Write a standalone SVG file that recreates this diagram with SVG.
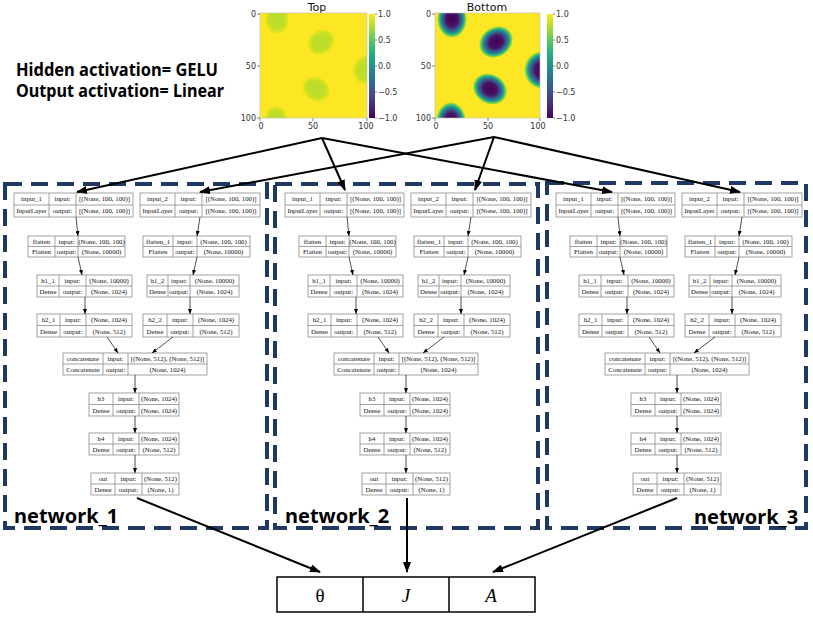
<svg xmlns="http://www.w3.org/2000/svg" width="813" height="617" viewBox="0 0 813 617">
<style>
.nb{fill:#fff;stroke:#8c8c8c;stroke-width:0.8}
.nl{fill:none;stroke:#8c8c8c;stroke-width:0.8}
.nt{font-family:"Liberation Serif",serif;font-size:6.8px;fill:#111;text-anchor:middle}
.dash{fill:none;stroke:#1f3864;stroke-width:4;stroke-dasharray:17 9}
.ar{fill:none;stroke:#000;stroke-width:2;marker-end:url(#ah)}
.sa{fill:none;stroke:#222;stroke-width:0.8;marker-end:url(#sh)}
.tk{font-family:"DejaVu Sans",sans-serif;font-size:8px;fill:#333}
.tt{font-family:"DejaVu Sans",sans-serif;font-size:11px;fill:#111;text-anchor:middle}
.tm{stroke:#333;stroke-width:0.6}
.fr{fill:none;stroke:#bbb;stroke-width:0.6}
.nw{font-family:"Noto Sans",sans-serif;font-weight:bold;font-size:20px;fill:#000}
.hd{font-family:"Noto Sans",sans-serif;font-weight:bold;font-size:17px;fill:#000}
.mt{font-family:"Liberation Serif",serif;font-size:19px;fill:#000;text-anchor:middle}
</style>
<defs>
<marker id="ah" markerUnits="userSpaceOnUse" markerWidth="11" markerHeight="8" refX="10" refY="4" orient="auto"><path d="M0,0 L11,4 L0,8 z" fill="#000"/></marker>
<marker id="sh" markerUnits="userSpaceOnUse" markerWidth="5" markerHeight="4" refX="5" refY="2" orient="auto"><path d="M0,0 L5,2 L0,4 z" fill="#000"/></marker>
<linearGradient id="vir" x1="0" y1="0" x2="0" y2="1">
<stop offset="0" stop-color="#fde725"/><stop offset="0.1" stop-color="#bddf26"/><stop offset="0.2" stop-color="#7ad151"/><stop offset="0.3" stop-color="#44bf70"/><stop offset="0.4" stop-color="#22a884"/><stop offset="0.5" stop-color="#21918c"/><stop offset="0.6" stop-color="#2a788e"/><stop offset="0.7" stop-color="#355f8d"/><stop offset="0.8" stop-color="#414487"/><stop offset="0.9" stop-color="#482475"/><stop offset="1" stop-color="#440154"/>
</linearGradient>
<radialGradient id="gBot">
<stop offset="0" stop-color="#440154"/><stop offset="0.4" stop-color="#471365"/><stop offset="0.55" stop-color="#3e4989"/><stop offset="0.64" stop-color="#31688e"/><stop offset="0.71" stop-color="#26828e"/><stop offset="0.77" stop-color="#1f9e89"/><stop offset="0.83" stop-color="#35b779"/><stop offset="0.89" stop-color="#6ece58"/><stop offset="0.95" stop-color="#b5de2b"/><stop offset="1" stop-color="#fde725"/>
</radialGradient>
<radialGradient id="gTop">
<stop offset="0" stop-color="#b9dd2c"/><stop offset="0.5" stop-color="#bfde28"/><stop offset="0.7" stop-color="#dde31b"/><stop offset="0.82" stop-color="#fde725"/><stop offset="1" stop-color="#fde725"/>
</radialGradient>
<clipPath id="cTop"><rect x="260" y="13" width="107" height="105"/></clipPath>
<clipPath id="cBot"><rect x="435" y="13" width="105" height="105"/></clipPath>
</defs>
<rect width="813" height="617" fill="#fff"/>

<!-- activation text -->
<text class="hd" x="16" y="76" textLength="202" lengthAdjust="spacingAndGlyphs">Hidden activation= GELU</text>
<text class="hd" x="16" y="97" textLength="208" lengthAdjust="spacingAndGlyphs">Output activation= Linear</text>

<!-- Top heatmap -->
<g id="heatmap_top">
<text class="tt" x="317" y="11">Top</text>
<g clip-path="url(#cTop)">
<rect x="260" y="13" width="107" height="105" fill="#fde725"/>
<ellipse cx="277" cy="19" rx="15" ry="19" fill="url(#gTop)"/>
<ellipse cx="321" cy="42" rx="18" ry="15" transform="rotate(-35 321 42)" fill="url(#gTop)"/>
<ellipse cx="367" cy="70" rx="18" ry="19" fill="url(#gTop)"/>
<ellipse cx="316" cy="89" rx="18" ry="15" transform="rotate(30 316 89)" fill="url(#gTop)"/>
<ellipse cx="276" cy="121" rx="15" ry="19" fill="url(#gTop)"/>
</g>
<rect class="fr" x="260" y="13" width="107" height="105"/>
<path class="tm" d="M260 14h-3M260 66h-3M260 118h-3M260 118v3M313 118v3M367 118v3"/>
<text class="tk" x="256" y="17" text-anchor="end">0</text>
<text class="tk" x="256" y="69" text-anchor="end">50</text>
<text class="tk" x="256" y="121" text-anchor="end">100</text>
<text class="tk" x="261" y="129" text-anchor="middle">0</text>
<text class="tk" x="313" y="129" text-anchor="middle">50</text>
<text class="tk" x="366" y="129" text-anchor="middle">100</text>
<rect x="369" y="14" width="6" height="104" fill="url(#vir)"/>
<path class="tm" d="M375 14h2M375 40h2M375 66h2M375 92h2M375 118h2"/>
<text class="tk" x="378" y="17">1.0</text>
<text class="tk" x="378" y="43">0.5</text>
<text class="tk" x="378" y="69">0.0</text>
<text class="tk" x="378" y="95">−0.5</text>
<text class="tk" x="378" y="121">−1.0</text>
</g>

<!-- Bottom heatmap -->
<g id="heatmap_bottom">
<text class="tt" x="487" y="11">Bottom</text>
<g clip-path="url(#cBot)">
<rect x="435" y="13" width="105" height="105" fill="#fde725"/>
<ellipse cx="452" cy="19" rx="15" ry="19" fill="url(#gBot)"/>
<ellipse cx="496" cy="42" rx="18" ry="15" transform="rotate(-35 496 42)" fill="url(#gBot)"/>
<ellipse cx="542" cy="70" rx="18" ry="19" fill="url(#gBot)"/>
<ellipse cx="490" cy="89" rx="18" ry="15" transform="rotate(30 490 89)" fill="url(#gBot)"/>
<ellipse cx="451" cy="121" rx="15" ry="19" fill="url(#gBot)"/>
</g>
<rect class="fr" x="435" y="13" width="105" height="105"/>
<path class="tm" d="M435 14h-3M435 66h-3M435 118h-3M435 118v3M488 118v3M540 118v3"/>
<text class="tk" x="431" y="17" text-anchor="end">0</text>
<text class="tk" x="431" y="69" text-anchor="end">50</text>
<text class="tk" x="431" y="121" text-anchor="end">100</text>
<text class="tk" x="436" y="129" text-anchor="middle">0</text>
<text class="tk" x="488" y="129" text-anchor="middle">50</text>
<text class="tk" x="538" y="129" text-anchor="middle">100</text>
<rect x="547" y="14" width="6" height="104" fill="url(#vir)"/>
<path class="tm" d="M553 14h2M553 40h2M553 66h2M553 92h2M553 118h2"/>
<text class="tk" x="556" y="17">1.0</text>
<text class="tk" x="556" y="43">0.5</text>
<text class="tk" x="556" y="69">0.0</text>
<text class="tk" x="556" y="95">−0.5</text>
<text class="tk" x="556" y="121">−1.0</text>
</g>

<!-- dashed network boxes -->
<rect id="box_1" class="dash" x="5" y="184" width="262" height="344"/>
<rect id="box_2" class="dash" x="275" y="184" width="263" height="344"/>
<rect id="box_3" class="dash" x="547" y="183" width="259" height="345"/>

<!-- network 1 -->
<g id="network_1">
<g id="n1_input_1"><rect class="nb" x="14" y="193" width="119" height="24"/><path class="nl" d="M14 205H133M49 193V217M76 193V217"/><text class="nt" x="31.5" y="201.3">input_1</text><text class="nt" x="62.5" y="201.3">input:</text><text class="nt" x="104.5" y="201.3">[(None, 100, 100)]</text><text class="nt" x="31.5" y="213.3">InputLayer</text><text class="nt" x="62.5" y="213.3">output:</text><text class="nt" x="104.5" y="213.3">[(None, 100, 100)]</text></g>
<g id="n1_input_2"><rect class="nb" x="140" y="193" width="120" height="24"/><path class="nl" d="M140 205H260M175 193V217M202 193V217"/><text class="nt" x="157.5" y="201.3">input_2</text><text class="nt" x="188.5" y="201.3">input:</text><text class="nt" x="231" y="201.3">[(None, 100, 100)]</text><text class="nt" x="157.5" y="213.3">InputLayer</text><text class="nt" x="188.5" y="213.3">output:</text><text class="nt" x="231" y="213.3">[(None, 100, 100)]</text></g>
<g id="n1_flatten"><rect class="nb" x="28" y="236" width="97" height="21"/><path class="nl" d="M28 246.5H125M55 236V257M78 236V257"/><text class="nt" x="41.5" y="243.8">flatten</text><text class="nt" x="66.5" y="243.8">input:</text><text class="nt" x="101.5" y="243.8">(None, 100, 100)</text><text class="nt" x="41.5" y="254.3">Flatten</text><text class="nt" x="66.5" y="254.3">output:</text><text class="nt" x="101.5" y="254.3">(None, 10000)</text></g>
<g id="n1_flatten_1"><rect class="nb" x="143" y="236" width="107" height="21"/><path class="nl" d="M143 246.5H250M173 236V257M197 236V257"/><text class="nt" x="158" y="243.8">flatten_1</text><text class="nt" x="185" y="243.8">input:</text><text class="nt" x="223.5" y="243.8">(None, 100, 100)</text><text class="nt" x="158" y="254.3">Flatten</text><text class="nt" x="185" y="254.3">output:</text><text class="nt" x="223.5" y="254.3">(None, 10000)</text></g>
<g id="n1_h1_1"><rect class="nb" x="37" y="275" width="95" height="22"/><path class="nl" d="M37 286H132M59 275V297M86 275V297"/><text class="nt" x="48" y="282.8">h1_1</text><text class="nt" x="72.5" y="282.8">input:</text><text class="nt" x="109" y="282.8">(None, 10000)</text><text class="nt" x="48" y="293.8">Dense</text><text class="nt" x="72.5" y="293.8">output:</text><text class="nt" x="109" y="293.8">(None, 1024)</text></g>
<g id="n1_h1_2"><rect class="nb" x="147" y="275" width="92" height="22"/><path class="nl" d="M147 286H239M168 275V297M190 275V297"/><text class="nt" x="157.5" y="282.8">h1_2</text><text class="nt" x="179" y="282.8">input:</text><text class="nt" x="214.5" y="282.8">(None, 10000)</text><text class="nt" x="157.5" y="293.8">Dense</text><text class="nt" x="179" y="293.8">output:</text><text class="nt" x="214.5" y="293.8">(None, 1024)</text></g>
<g id="n1_h2_1"><rect class="nb" x="37" y="314" width="95" height="23"/><path class="nl" d="M37 325.5H132M60 314V337M86 314V337"/><text class="nt" x="48.5" y="322.2">h2_1</text><text class="nt" x="73" y="322.2">input:</text><text class="nt" x="109" y="322.2">(None, 1024)</text><text class="nt" x="48.5" y="333.7">Dense</text><text class="nt" x="73" y="333.7">output:</text><text class="nt" x="109" y="333.7">(None, 512)</text></g>
<g id="n1_h2_2"><rect class="nb" x="143" y="314" width="96" height="23"/><path class="nl" d="M143 325.5H239M167 314V337M193 314V337"/><text class="nt" x="155" y="322.2">h2_2</text><text class="nt" x="180" y="322.2">input:</text><text class="nt" x="216" y="322.2">(None, 1024)</text><text class="nt" x="155" y="333.7">Dense</text><text class="nt" x="180" y="333.7">output:</text><text class="nt" x="216" y="333.7">(None, 512)</text></g>
<g id="n1_concatenate"><rect class="nb" x="63" y="353" width="144" height="22"/><path class="nl" d="M63 364H207M103 353V375M128 353V375"/><text class="nt" x="83" y="360.8">concatenate</text><text class="nt" x="115.5" y="360.8">input:</text><text class="nt" x="167.5" y="360.8">[(None, 512), (None, 512)]</text><text class="nt" x="83" y="371.8">Concatenate</text><text class="nt" x="115.5" y="371.8">output:</text><text class="nt" x="167.5" y="371.8">(None, 1024)</text></g>
<g id="n1_h3"><rect class="nb" x="89" y="393" width="90" height="23"/><path class="nl" d="M89 404.5H179M113 393V416M139 393V416"/><text class="nt" x="101" y="401.2">h3</text><text class="nt" x="126" y="401.2">input:</text><text class="nt" x="159" y="401.2">(None, 1024)</text><text class="nt" x="101" y="412.7">Dense</text><text class="nt" x="126" y="412.7">output:</text><text class="nt" x="159" y="412.7">(None, 1024)</text></g>
<g id="n1_h4"><rect class="nb" x="89" y="433" width="90" height="22"/><path class="nl" d="M89 444H179M113 433V455M139 433V455"/><text class="nt" x="101" y="440.8">h4</text><text class="nt" x="126" y="440.8">input:</text><text class="nt" x="159" y="440.8">(None, 1024)</text><text class="nt" x="101" y="451.8">Dense</text><text class="nt" x="126" y="451.8">output:</text><text class="nt" x="159" y="451.8">(None, 512)</text></g>
<g id="n1_out"><rect class="nb" x="91" y="473" width="88" height="22"/><path class="nl" d="M91 484H179M115 473V495M142 473V495"/><text class="nt" x="103" y="480.8">out</text><text class="nt" x="128.5" y="480.8">input:</text><text class="nt" x="160.5" y="480.8">(None, 512)</text><text class="nt" x="103" y="491.8">Dense</text><text class="nt" x="128.5" y="491.8">output:</text><text class="nt" x="160.5" y="491.8">(None, 1)</text></g>
<text class="nw" x="14" y="523">network_1</text>
</g>

<!-- network 2 -->
<g id="network_2" transform="translate(271,0)">
<g id="n2_input_1"><rect class="nb" x="14" y="193" width="119" height="24"/><path class="nl" d="M14 205H133M49 193V217M76 193V217"/><text class="nt" x="31.5" y="201.3">input_1</text><text class="nt" x="62.5" y="201.3">input:</text><text class="nt" x="104.5" y="201.3">[(None, 100, 100)]</text><text class="nt" x="31.5" y="213.3">InputLayer</text><text class="nt" x="62.5" y="213.3">output:</text><text class="nt" x="104.5" y="213.3">[(None, 100, 100)]</text></g>
<g id="n2_input_2"><rect class="nb" x="140" y="193" width="120" height="24"/><path class="nl" d="M140 205H260M175 193V217M202 193V217"/><text class="nt" x="157.5" y="201.3">input_2</text><text class="nt" x="188.5" y="201.3">input:</text><text class="nt" x="231" y="201.3">[(None, 100, 100)]</text><text class="nt" x="157.5" y="213.3">InputLayer</text><text class="nt" x="188.5" y="213.3">output:</text><text class="nt" x="231" y="213.3">[(None, 100, 100)]</text></g>
<g id="n2_flatten"><rect class="nb" x="28" y="236" width="97" height="21"/><path class="nl" d="M28 246.5H125M55 236V257M78 236V257"/><text class="nt" x="41.5" y="243.8">flatten</text><text class="nt" x="66.5" y="243.8">input:</text><text class="nt" x="101.5" y="243.8">(None, 100, 100)</text><text class="nt" x="41.5" y="254.3">Flatten</text><text class="nt" x="66.5" y="254.3">output:</text><text class="nt" x="101.5" y="254.3">(None, 10000)</text></g>
<g id="n2_flatten_1"><rect class="nb" x="143" y="236" width="107" height="21"/><path class="nl" d="M143 246.5H250M173 236V257M197 236V257"/><text class="nt" x="158" y="243.8">flatten_1</text><text class="nt" x="185" y="243.8">input:</text><text class="nt" x="223.5" y="243.8">(None, 100, 100)</text><text class="nt" x="158" y="254.3">Flatten</text><text class="nt" x="185" y="254.3">output:</text><text class="nt" x="223.5" y="254.3">(None, 10000)</text></g>
<g id="n2_h1_1"><rect class="nb" x="37" y="275" width="95" height="22"/><path class="nl" d="M37 286H132M59 275V297M86 275V297"/><text class="nt" x="48" y="282.8">h1_1</text><text class="nt" x="72.5" y="282.8">input:</text><text class="nt" x="109" y="282.8">(None, 10000)</text><text class="nt" x="48" y="293.8">Dense</text><text class="nt" x="72.5" y="293.8">output:</text><text class="nt" x="109" y="293.8">(None, 1024)</text></g>
<g id="n2_h1_2"><rect class="nb" x="147" y="275" width="92" height="22"/><path class="nl" d="M147 286H239M168 275V297M190 275V297"/><text class="nt" x="157.5" y="282.8">h1_2</text><text class="nt" x="179" y="282.8">input:</text><text class="nt" x="214.5" y="282.8">(None, 10000)</text><text class="nt" x="157.5" y="293.8">Dense</text><text class="nt" x="179" y="293.8">output:</text><text class="nt" x="214.5" y="293.8">(None, 1024)</text></g>
<g id="n2_h2_1"><rect class="nb" x="37" y="314" width="95" height="23"/><path class="nl" d="M37 325.5H132M60 314V337M86 314V337"/><text class="nt" x="48.5" y="322.2">h2_1</text><text class="nt" x="73" y="322.2">input:</text><text class="nt" x="109" y="322.2">(None, 1024)</text><text class="nt" x="48.5" y="333.7">Dense</text><text class="nt" x="73" y="333.7">output:</text><text class="nt" x="109" y="333.7">(None, 512)</text></g>
<g id="n2_h2_2"><rect class="nb" x="143" y="314" width="96" height="23"/><path class="nl" d="M143 325.5H239M167 314V337M193 314V337"/><text class="nt" x="155" y="322.2">h2_2</text><text class="nt" x="180" y="322.2">input:</text><text class="nt" x="216" y="322.2">(None, 1024)</text><text class="nt" x="155" y="333.7">Dense</text><text class="nt" x="180" y="333.7">output:</text><text class="nt" x="216" y="333.7">(None, 512)</text></g>
<g id="n2_concatenate"><rect class="nb" x="63" y="353" width="144" height="22"/><path class="nl" d="M63 364H207M103 353V375M128 353V375"/><text class="nt" x="83" y="360.8">concatenate</text><text class="nt" x="115.5" y="360.8">input:</text><text class="nt" x="167.5" y="360.8">[(None, 512), (None, 512)]</text><text class="nt" x="83" y="371.8">Concatenate</text><text class="nt" x="115.5" y="371.8">output:</text><text class="nt" x="167.5" y="371.8">(None, 1024)</text></g>
<g id="n2_h3"><rect class="nb" x="89" y="393" width="90" height="23"/><path class="nl" d="M89 404.5H179M113 393V416M139 393V416"/><text class="nt" x="101" y="401.2">h3</text><text class="nt" x="126" y="401.2">input:</text><text class="nt" x="159" y="401.2">(None, 1024)</text><text class="nt" x="101" y="412.7">Dense</text><text class="nt" x="126" y="412.7">output:</text><text class="nt" x="159" y="412.7">(None, 1024)</text></g>
<g id="n2_h4"><rect class="nb" x="89" y="433" width="90" height="22"/><path class="nl" d="M89 444H179M113 433V455M139 433V455"/><text class="nt" x="101" y="440.8">h4</text><text class="nt" x="126" y="440.8">input:</text><text class="nt" x="159" y="440.8">(None, 1024)</text><text class="nt" x="101" y="451.8">Dense</text><text class="nt" x="126" y="451.8">output:</text><text class="nt" x="159" y="451.8">(None, 512)</text></g>
<g id="n2_out"><rect class="nb" x="91" y="473" width="88" height="22"/><path class="nl" d="M91 484H179M115 473V495M142 473V495"/><text class="nt" x="103" y="480.8">out</text><text class="nt" x="128.5" y="480.8">input:</text><text class="nt" x="160.5" y="480.8">(None, 512)</text><text class="nt" x="103" y="491.8">Dense</text><text class="nt" x="128.5" y="491.8">output:</text><text class="nt" x="160.5" y="491.8">(None, 1)</text></g>
<text class="nw" x="14" y="523">network_2</text>
</g>

<!-- network 3 -->
<g id="network_3" transform="translate(542,0)">
<g id="n3_input_1"><rect class="nb" x="14" y="193" width="119" height="24"/><path class="nl" d="M14 205H133M49 193V217M76 193V217"/><text class="nt" x="31.5" y="201.3">input_1</text><text class="nt" x="62.5" y="201.3">input:</text><text class="nt" x="104.5" y="201.3">[(None, 100, 100)]</text><text class="nt" x="31.5" y="213.3">InputLayer</text><text class="nt" x="62.5" y="213.3">output:</text><text class="nt" x="104.5" y="213.3">[(None, 100, 100)]</text></g>
<g id="n3_input_2"><rect class="nb" x="140" y="193" width="120" height="24"/><path class="nl" d="M140 205H260M175 193V217M202 193V217"/><text class="nt" x="157.5" y="201.3">input_2</text><text class="nt" x="188.5" y="201.3">input:</text><text class="nt" x="231" y="201.3">[(None, 100, 100)]</text><text class="nt" x="157.5" y="213.3">InputLayer</text><text class="nt" x="188.5" y="213.3">output:</text><text class="nt" x="231" y="213.3">[(None, 100, 100)]</text></g>
<g id="n3_flatten"><rect class="nb" x="28" y="236" width="97" height="21"/><path class="nl" d="M28 246.5H125M55 236V257M78 236V257"/><text class="nt" x="41.5" y="243.8">flatten</text><text class="nt" x="66.5" y="243.8">input:</text><text class="nt" x="101.5" y="243.8">(None, 100, 100)</text><text class="nt" x="41.5" y="254.3">Flatten</text><text class="nt" x="66.5" y="254.3">output:</text><text class="nt" x="101.5" y="254.3">(None, 10000)</text></g>
<g id="n3_flatten_1"><rect class="nb" x="143" y="236" width="107" height="21"/><path class="nl" d="M143 246.5H250M173 236V257M197 236V257"/><text class="nt" x="158" y="243.8">flatten_1</text><text class="nt" x="185" y="243.8">input:</text><text class="nt" x="223.5" y="243.8">(None, 100, 100)</text><text class="nt" x="158" y="254.3">Flatten</text><text class="nt" x="185" y="254.3">output:</text><text class="nt" x="223.5" y="254.3">(None, 10000)</text></g>
<g id="n3_h1_1"><rect class="nb" x="37" y="275" width="95" height="22"/><path class="nl" d="M37 286H132M59 275V297M86 275V297"/><text class="nt" x="48" y="282.8">h1_1</text><text class="nt" x="72.5" y="282.8">input:</text><text class="nt" x="109" y="282.8">(None, 10000)</text><text class="nt" x="48" y="293.8">Dense</text><text class="nt" x="72.5" y="293.8">output:</text><text class="nt" x="109" y="293.8">(None, 1024)</text></g>
<g id="n3_h1_2"><rect class="nb" x="147" y="275" width="92" height="22"/><path class="nl" d="M147 286H239M168 275V297M190 275V297"/><text class="nt" x="157.5" y="282.8">h1_2</text><text class="nt" x="179" y="282.8">input:</text><text class="nt" x="214.5" y="282.8">(None, 10000)</text><text class="nt" x="157.5" y="293.8">Dense</text><text class="nt" x="179" y="293.8">output:</text><text class="nt" x="214.5" y="293.8">(None, 1024)</text></g>
<g id="n3_h2_1"><rect class="nb" x="37" y="314" width="95" height="23"/><path class="nl" d="M37 325.5H132M60 314V337M86 314V337"/><text class="nt" x="48.5" y="322.2">h2_1</text><text class="nt" x="73" y="322.2">input:</text><text class="nt" x="109" y="322.2">(None, 1024)</text><text class="nt" x="48.5" y="333.7">Dense</text><text class="nt" x="73" y="333.7">output:</text><text class="nt" x="109" y="333.7">(None, 512)</text></g>
<g id="n3_h2_2"><rect class="nb" x="143" y="314" width="96" height="23"/><path class="nl" d="M143 325.5H239M167 314V337M193 314V337"/><text class="nt" x="155" y="322.2">h2_2</text><text class="nt" x="180" y="322.2">input:</text><text class="nt" x="216" y="322.2">(None, 1024)</text><text class="nt" x="155" y="333.7">Dense</text><text class="nt" x="180" y="333.7">output:</text><text class="nt" x="216" y="333.7">(None, 512)</text></g>
<g id="n3_concatenate"><rect class="nb" x="63" y="353" width="144" height="22"/><path class="nl" d="M63 364H207M103 353V375M128 353V375"/><text class="nt" x="83" y="360.8">concatenate</text><text class="nt" x="115.5" y="360.8">input:</text><text class="nt" x="167.5" y="360.8">[(None, 512), (None, 512)]</text><text class="nt" x="83" y="371.8">Concatenate</text><text class="nt" x="115.5" y="371.8">output:</text><text class="nt" x="167.5" y="371.8">(None, 1024)</text></g>
<g id="n3_h3"><rect class="nb" x="89" y="393" width="90" height="23"/><path class="nl" d="M89 404.5H179M113 393V416M139 393V416"/><text class="nt" x="101" y="401.2">h3</text><text class="nt" x="126" y="401.2">input:</text><text class="nt" x="159" y="401.2">(None, 1024)</text><text class="nt" x="101" y="412.7">Dense</text><text class="nt" x="126" y="412.7">output:</text><text class="nt" x="159" y="412.7">(None, 1024)</text></g>
<g id="n3_h4"><rect class="nb" x="89" y="433" width="90" height="22"/><path class="nl" d="M89 444H179M113 433V455M139 433V455"/><text class="nt" x="101" y="440.8">h4</text><text class="nt" x="126" y="440.8">input:</text><text class="nt" x="159" y="440.8">(None, 1024)</text><text class="nt" x="101" y="451.8">Dense</text><text class="nt" x="126" y="451.8">output:</text><text class="nt" x="159" y="451.8">(None, 512)</text></g>
<g id="n3_out"><rect class="nb" x="91" y="473" width="88" height="22"/><path class="nl" d="M91 484H179M115 473V495M142 473V495"/><text class="nt" x="103" y="480.8">out</text><text class="nt" x="128.5" y="480.8">input:</text><text class="nt" x="160.5" y="480.8">(None, 512)</text><text class="nt" x="103" y="491.8">Dense</text><text class="nt" x="128.5" y="491.8">output:</text><text class="nt" x="160.5" y="491.8">(None, 1)</text></g>
<text class="nw" x="152" y="524">network_3</text>
</g>

<!-- output table -->
<g id="output_table">
<rect x="277" y="577" width="258" height="35" fill="#fff" stroke="#000" stroke-width="1.5"/>
<path d="M363 577V612M449 577V612" stroke="#000" stroke-width="1.5"/>
<text class="mt" x="320" y="602">θ</text>
<text class="mt" x="406" y="602" font-style="italic">J</text>
<text class="mt" x="491" y="602" font-style="italic">A</text>
</g>

<!-- connectors -->
<g id="connectors">
<g id="top_arrows">
<line class="ar" x1="322" y1="138" x2="77" y2="192"/>
<line class="ar" x1="322" y1="138" x2="345" y2="190"/>
<line class="ar" x1="322" y1="138" x2="612" y2="192"/>
<line class="ar" x1="494" y1="137" x2="200" y2="192"/>
<line class="ar" x1="494" y1="137" x2="475" y2="190"/>
<line class="ar" x1="494" y1="137" x2="740" y2="192"/>
</g>
<g id="net1_edges">
<line class="sa" x1="76" y1="217" x2="78" y2="236"/>
<line class="sa" x1="200" y1="217" x2="197" y2="236"/>
<line class="sa" x1="78" y1="257" x2="82" y2="275"/>
<line class="sa" x1="197" y1="257" x2="193" y2="275"/>
<line class="sa" x1="85" y1="297" x2="85" y2="314"/>
<line class="sa" x1="190" y1="297" x2="190" y2="314"/>
<line class="sa" x1="107" y1="337" x2="118" y2="353"/>
<line class="sa" x1="173" y1="337" x2="152" y2="353"/>
<line class="sa" x1="135" y1="375" x2="135" y2="393"/>
<line class="sa" x1="135" y1="416" x2="135" y2="433"/>
<line class="sa" x1="135" y1="455" x2="135" y2="473"/>
</g>
<g id="net2_edges" transform="translate(271,0)">
<line class="sa" x1="76" y1="217" x2="78" y2="236"/>
<line class="sa" x1="200" y1="217" x2="197" y2="236"/>
<line class="sa" x1="78" y1="257" x2="82" y2="275"/>
<line class="sa" x1="197" y1="257" x2="193" y2="275"/>
<line class="sa" x1="85" y1="297" x2="85" y2="314"/>
<line class="sa" x1="190" y1="297" x2="190" y2="314"/>
<line class="sa" x1="107" y1="337" x2="118" y2="353"/>
<line class="sa" x1="173" y1="337" x2="152" y2="353"/>
<line class="sa" x1="135" y1="375" x2="135" y2="393"/>
<line class="sa" x1="135" y1="416" x2="135" y2="433"/>
<line class="sa" x1="135" y1="455" x2="135" y2="473"/>
</g>
<g id="net3_edges" transform="translate(542,0)">
<line class="sa" x1="76" y1="217" x2="78" y2="236"/>
<line class="sa" x1="200" y1="217" x2="197" y2="236"/>
<line class="sa" x1="78" y1="257" x2="82" y2="275"/>
<line class="sa" x1="197" y1="257" x2="193" y2="275"/>
<line class="sa" x1="85" y1="297" x2="85" y2="314"/>
<line class="sa" x1="190" y1="297" x2="190" y2="314"/>
<line class="sa" x1="107" y1="337" x2="118" y2="353"/>
<line class="sa" x1="173" y1="337" x2="152" y2="353"/>
<line class="sa" x1="135" y1="375" x2="135" y2="393"/>
<line class="sa" x1="135" y1="416" x2="135" y2="433"/>
<line class="sa" x1="135" y1="455" x2="135" y2="473"/>
</g>
<g id="bottom_arrows">
<line class="ar" x1="137" y1="498" x2="320" y2="572"/>
<line class="ar" x1="407" y1="498" x2="407" y2="572"/>
<line class="ar" x1="677" y1="498" x2="493" y2="572"/>
</g>
</g>
</svg>
